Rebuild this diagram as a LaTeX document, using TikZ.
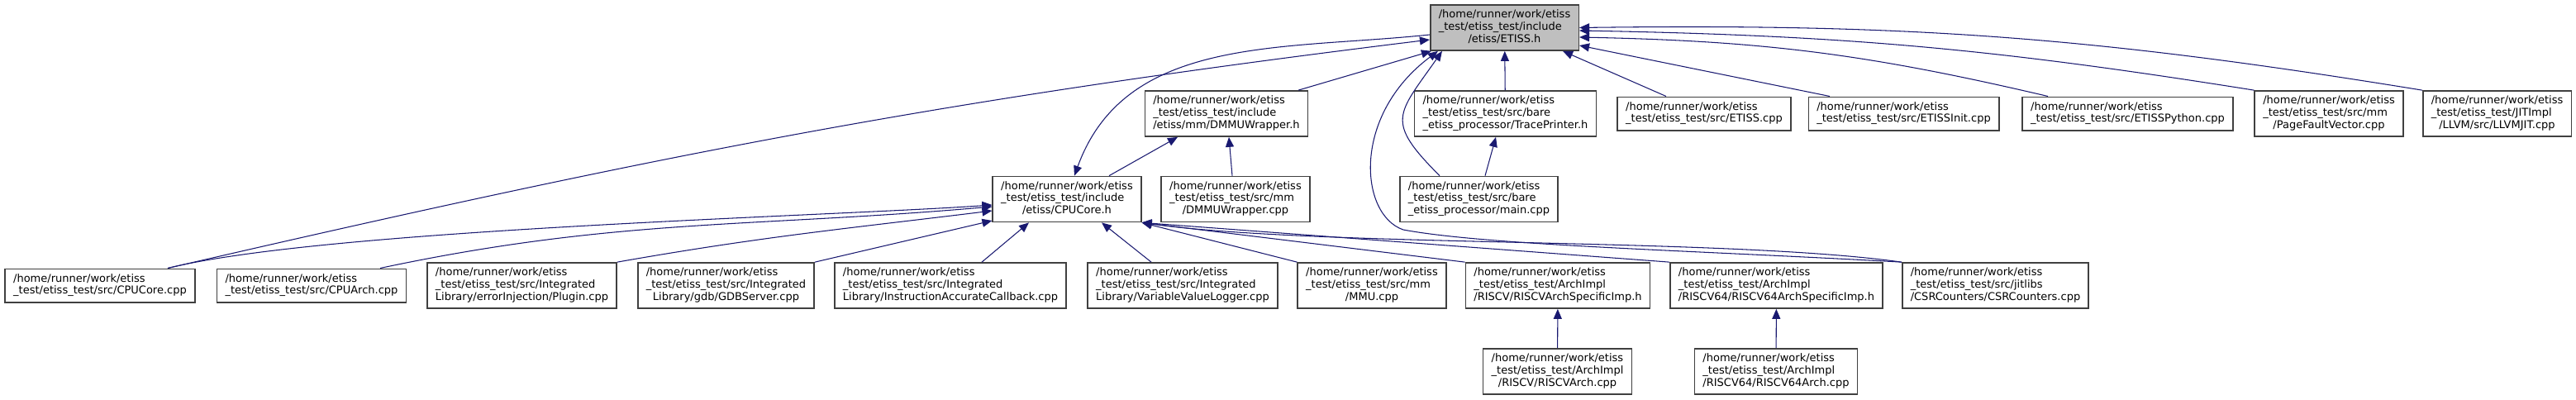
\documentclass[tikz,border=0pt]{standalone}
\usepackage{fontspec}
\setmainfont{DejaVu Sans}
\usepackage{xcolor}
\usepackage{tikz}
\usetikzlibrary{arrows.meta,calc}
\definecolor{edgeblue}{RGB}{25,25,112}
\definecolor{boxborder}{RGB}{64,64,64}
\definecolor{curgray}{RGB}{191,191,191}
\newcommand{\incfile}[2]{\begin{tabular}{@{}l@{}}#1\\\multicolumn{1}{@{}c@{}}{#2}\end{tabular}}

\begin{document}
\begin{tikzpicture}[
  every node/.style={font=\fontsize{7.4pt}{8.37pt}\selectfont},
  fbox/.style={
    draw=boxborder, fill=white, line width=0.9pt,
    inner xsep=0.2cm, inner ysep=0.11cm
  },
  curbox/.style={fbox, fill=curgray},
  arr/.style={-{Triangle[length=0.24cm,width=0.2cm]}, draw=edgeblue, line width=0.6pt}
]
\useasboundingbox (0,0) rectangle (62.34,-9.66);

\node[curbox] (etissH) at (36.41,-0.67) {\incfile{/home/runner/work/etiss\\\_test/etiss\_test/include}{/etiss/ETISS.h}};

\node[fbox] (dmmuH)     at (29.68,-2.75) {\incfile{/home/runner/work/etiss\\\_test/etiss\_test/include}{/etiss/mm/DMMUWrapper.h}};
\node[fbox] (traceH)    at (36.43,-2.75) {\incfile{/home/runner/work/etiss\\\_test/etiss\_test/src/bare}{\_etiss\_processor/TracePrinter.h}};
\node[fbox] (etissCpp)  at (41.24,-2.75) {\incfile{/home/runner/work/etiss}{\_test/etiss\_test/src/ETISS.cpp}};
\node[fbox] (initCpp)   at (46.07,-2.75) {\incfile{/home/runner/work/etiss}{\_test/etiss\_test/src/ETISSInit.cpp}};
\node[fbox] (pythonCpp) at (51.49,-2.75) {\incfile{/home/runner/work/etiss}{\_test/etiss\_test/src/ETISSPython.cpp}};
\node[fbox] (pfvCpp)    at (56.36,-2.75) {\incfile{/home/runner/work/etiss\\\_test/etiss\_test/src/mm}{/PageFaultVector.cpp}};
\node[fbox] (llvmCpp)   at (60.43,-2.75) {\incfile{/home/runner/work/etiss\\\_test/etiss\_test/JITImpl}{/LLVM/src/LLVMJIT.cpp}};

\node[fbox] (cpucoreH) at (25.82,-4.82) {\incfile{/home/runner/work/etiss\\\_test/etiss\_test/include}{/etiss/CPUCore.h}};
\node[fbox] (dmmuCpp)  at (29.90,-4.82) {\incfile{/home/runner/work/etiss\\\_test/etiss\_test/src/mm}{/DMMUWrapper.cpp}};
\node[fbox] (mainCpp)  at (35.79,-4.82) {\incfile{/home/runner/work/etiss\\\_test/etiss\_test/src/bare}{\_etiss\_processor/main.cpp}};

\node[fbox] (cpucoreCpp) at (2.42,-6.91)  {\incfile{/home/runner/work/etiss}{\_test/etiss\_test/src/CPUCore.cpp}};
\node[fbox] (cpuarchCpp) at (7.54,-6.91)  {\incfile{/home/runner/work/etiss}{\_test/etiss\_test/src/CPUArch.cpp}};
\node[fbox] (pluginCpp)  at (12.63,-6.91) {\incfile{/home/runner/work/etiss\\\_test/etiss\_test/src/Integrated}{Library/errorInjection/Plugin.cpp}};
\node[fbox] (gdbCpp)     at (17.57,-6.91) {\incfile{/home/runner/work/etiss\\\_test/etiss\_test/src/Integrated}{Library/gdb/GDBServer.cpp}};
\node[fbox] (iacCpp)     at (23.00,-6.91) {\incfile{/home/runner/work/etiss\\\_test/etiss\_test/src/Integrated}{Library/InstructionAccurateCallback.cpp}};
\node[fbox] (vvlCpp)     at (28.62,-6.91) {\incfile{/home/runner/work/etiss\\\_test/etiss\_test/src/Integrated}{Library/VariableValueLogger.cpp}};
\node[fbox] (mmuCpp)     at (33.20,-6.91) {\incfile{/home/runner/work/etiss\\\_test/etiss\_test/src/mm}{/MMU.cpp}};
\node[fbox] (rvImpH)     at (37.70,-6.91) {\incfile{/home/runner/work/etiss\\\_test/etiss\_test/ArchImpl}{/RISCV/RISCVArchSpecificImp.h}};
\node[fbox] (rv64ImpH)   at (42.99,-6.91) {\incfile{/home/runner/work/etiss\\\_test/etiss\_test/ArchImpl}{/RISCV64/RISCV64ArchSpecificImp.h}};
\node[fbox] (csrCpp)     at (48.29,-6.91) {\incfile{/home/runner/work/etiss\\\_test/etiss\_test/src/jitlibs}{/CSRCounters/CSRCounters.cpp}};

\node[fbox] (rvArchCpp)   at (37.69,-8.99) {\incfile{/home/runner/work/etiss\\\_test/etiss\_test/ArchImpl}{/RISCV/RISCVArch.cpp}};
\node[fbox] (rv64ArchCpp) at (42.98,-8.99) {\incfile{/home/runner/work/etiss\\\_test/etiss\_test/ArchImpl}{/RISCV64/RISCV64Arch.cpp}};

%% Into ETISS.h
\draw[arr] ([xshift=1.64cm]cpucoreCpp.north) to[out=13,in=187] ([yshift=-0.29cm]etissH.west);
\draw[arr] ([xshift=1.74cm]dmmuH.north) -- ([xshift=0.04cm]etissH.south west);
\draw[arr] (traceH) -- (etissH);
\draw[arr] ([xshift=-0.95cm]mainCpp.north) to[out=135,in=235,looseness=1.6] ([xshift=0.3cm]etissH.south west);
\draw[arr] (csrCpp.north west) .. controls (41.0,-6.06) and (36.0,-5.94) .. (33.96,-5.56)
  .. controls (32.9,-5.2) and (32.7,-2.8) .. ([xshift=0.2cm]etissH.south west);
\draw[arr] ([xshift=-0.92cm]etissCpp.north) -- ([xshift=-0.4cm]etissH.south east);
\draw[arr] ([xshift=-1.79cm]initCpp.north) -- ([yshift=-0.43cm]etissH.east);
\draw[arr] ([xshift=-1.93cm]pythonCpp.north) to[bend right=6] ([yshift=-0.23cm]etissH.east);
\draw[arr] (pfvCpp.north west) to[bend right=4] ([yshift=-0.07cm]etissH.east);
\draw[arr] (llvmCpp.north west) to[bend right=5] (etissH.east);

%% ETISS.h -> CPUCore.h -> DMMUWrapper.h
\draw[arr] ([yshift=-0.17cm]etissH.west) to[out=186,in=70] ([xshift=0.18cm]cpucoreH.north);
\draw[arr] ([xshift=1.02cm]cpucoreH.north) -- ([xshift=-1.18cm]dmmuH.south);
\draw[arr] ([xshift=-0.08cm]dmmuCpp.north) -- ([xshift=0.06cm]dmmuH.south);
\draw[arr] ([xshift=0.15cm]mainCpp.north) -- ([xshift=-0.23cm]traceH.south);

%% Into CPUCore.h
\draw[arr] ([xshift=1.64cm]cpucoreCpp.north) to[out=14,in=184,looseness=0.5] ([yshift=-0.14cm]cpucoreH.west);
\draw[arr] ([xshift=1.66cm]cpuarchCpp.north) to[out=12,in=185] ([yshift=-0.18cm]cpucoreH.west);
\draw[arr] (pluginCpp.north east) to[out=10,in=187] ([yshift=-0.28cm]cpucoreH.west);
\draw[arr] (gdbCpp.north east) -- ([yshift=-0.52cm]cpucoreH.west);
\draw[arr] ([xshift=0.76cm]iacCpp.north) -- ([xshift=-0.92cm]cpucoreH.south);
\draw[arr] ([xshift=-0.76cm]vvlCpp.north) -- ([xshift=0.84cm]cpucoreH.south);
\draw[arr] (mmuCpp.north west) -- (cpucoreH.south east);
\draw[arr] (rvImpH.north west) -- (cpucoreH.south east);
\draw[arr] (rv64ImpH.north west) -- (cpucoreH.south east);
\draw[arr] (csrCpp.north west) to[out=172,in=-8,looseness=0.6] (cpucoreH.south east);

%% Arch implementations
\draw[arr] (rvArchCpp) -- (rvImpH);
\draw[arr] (rv64ArchCpp) -- (rv64ImpH);

\end{tikzpicture}
\end{document}
